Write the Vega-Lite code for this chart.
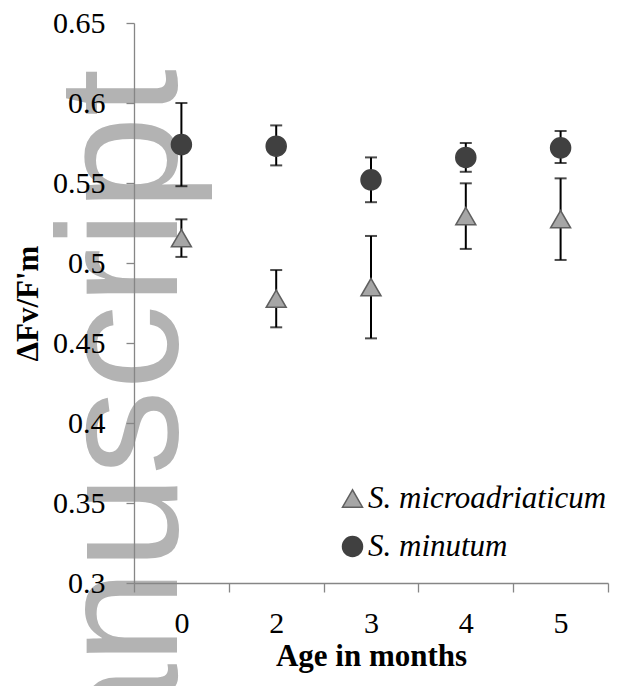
{
  "$schema": "https://vega.github.io/schema/vega-lite/v6.json",
  "width": 474,
  "height": 560,
  "autosize": {"type": "none"},
  "padding": {"left": 134, "top": 23, "right": 11, "bottom": 103},
  "background": "white",
  "config": {"view": {"stroke": null}, "font": "Liberation Serif"},
  "data": {
    "values": [
      {"species": "S. minutum", "age": "0", "mean": 0.574, "lo": 0.548, "hi": 0.600},
      {"species": "S. minutum", "age": "2", "mean": 0.573, "lo": 0.561, "hi": 0.586},
      {"species": "S. minutum", "age": "3", "mean": 0.552, "lo": 0.538, "hi": 0.566},
      {"species": "S. minutum", "age": "4", "mean": 0.566, "lo": 0.557, "hi": 0.575},
      {"species": "S. minutum", "age": "5", "mean": 0.572, "lo": 0.5625, "hi": 0.5825},
      {"species": "S. microadriaticum", "age": "0", "mean": 0.5155, "lo": 0.5038, "hi": 0.5273},
      {"species": "S. microadriaticum", "age": "2", "mean": 0.4777, "lo": 0.4598, "hi": 0.4956},
      {"species": "S. microadriaticum", "age": "3", "mean": 0.4849, "lo": 0.4529, "hi": 0.5169},
      {"species": "S. microadriaticum", "age": "4", "mean": 0.5293, "lo": 0.5088, "hi": 0.5498},
      {"species": "S. microadriaticum", "age": "5", "mean": 0.5274, "lo": 0.5019, "hi": 0.5529}
    ]
  },
  "encoding": {
    "x": {
      "field": "age", "type": "nominal", "sort": ["0", "2", "3", "4", "5"],
      "scale": {"domain": ["0", "2", "3", "4", "5"], "paddingInner": 0, "paddingOuter": 0},
      "axis": {
        "title": "Age in months", "labelAngle": 0, "tickBand": "extent",
        "domainColor": "#868686", "domainWidth": 1.3, "tickColor": "#868686", "tickWidth": 1.3, "tickSize": 9,
        "labelFont": "Liberation Serif", "labelFontSize": 30, "labelColor": "black",
        "labelBaseline": "alphabetic", "labelPadding": 40,
        "titleFont": "Liberation Serif", "titleFontSize": 31, "titleFontWeight": "bold", "titleColor": "black",
        "titleBaseline": "alphabetic", "titleY": 82, "grid": false, "zindex": 1
      }
    }
  },
  "layer": [
    {
      "data": {"values": [{"w": "Manuscript", "v": 0.6213, "a": "0"}]},
      "mark": {"type": "text", "font": "Liberation Sans", "fontSize": 170, "angle": -90, "align": "right", "baseline": "alphabetic", "color": "#b3b3b3"},
      "encoding": {
        "x": {"field": "a", "type": "nominal", "bandPosition": 0.454},
        "y": {"field": "v", "type": "quantitative"},
        "text": {"field": "w"}
      }
    },
    {
      "mark": {"type": "rule", "color": "black", "strokeWidth": 2},
      "encoding": {
        "y": {
          "field": "lo", "type": "quantitative",
          "scale": {"domain": [0.3, 0.65], "nice": false, "zero": false},
          "axis": {
            "title": "ΔFv/F'm", "values": [0.3, 0.35, 0.4, 0.45, 0.5, 0.55, 0.6, 0.65], "format": "~g",
            "domainColor": "#868686", "domainWidth": 1.3, "tickColor": "#868686", "tickWidth": 1.3, "tickSize": 8,
            "labelFont": "Liberation Serif", "labelFontSize": 30, "labelColor": "black", "labelPadding": 21,
            "titleFont": "Liberation Serif", "titleFontSize": 31, "titleFontWeight": "bold", "titleColor": "black",
            "titleAngle": -90, "titleBaseline": "alphabetic", "titleX": -97, "titleY": 280, "titleAlign": "center",
            "grid": false, "zindex": 1
          }
        },
        "y2": {"field": "hi"}
      }
    },
    {
      "mark": {"type": "tick", "color": "black", "size": 12, "thickness": 2, "orient": "horizontal"},
      "encoding": {"y": {"field": "lo", "type": "quantitative"}}
    },
    {
      "mark": {"type": "tick", "color": "black", "size": 12, "thickness": 2, "orient": "horizontal"},
      "encoding": {"y": {"field": "hi", "type": "quantitative"}}
    },
    {
      "mark": {"type": "point", "filled": true, "size": 400, "opacity": 1, "strokeWidth": 1.5},
      "encoding": {
        "y": {"field": "mean", "type": "quantitative"},
        "shape": {
          "field": "species", "type": "nominal",
          "scale": {"domain": ["S. microadriaticum", "S. minutum"], "range": ["triangle-up", "circle"]},
          "legend": {
            "title": null, "orient": "none", "legendX": 203, "legendY": 460, "padding": 0,
            "labelFont": "Liberation Serif", "labelFontStyle": "italic", "labelFontSize": 31, "labelColor": "black",
            "labelLimit": 400,
            "symbolSize": 400, "symbolStrokeWidth": 1.5, "rowPadding": 16, "labelOffset": 0
          }
        },
        "fill": {
          "field": "species", "type": "nominal",
          "scale": {"domain": ["S. microadriaticum", "S. minutum"], "range": ["#a6a6a6", "#404040"]}
        },
        "stroke": {
          "field": "species", "type": "nominal",
          "scale": {"domain": ["S. microadriaticum", "S. minutum"], "range": ["#5f5f5f", "#404040"]}
        }
      }
    }
  ]
}
